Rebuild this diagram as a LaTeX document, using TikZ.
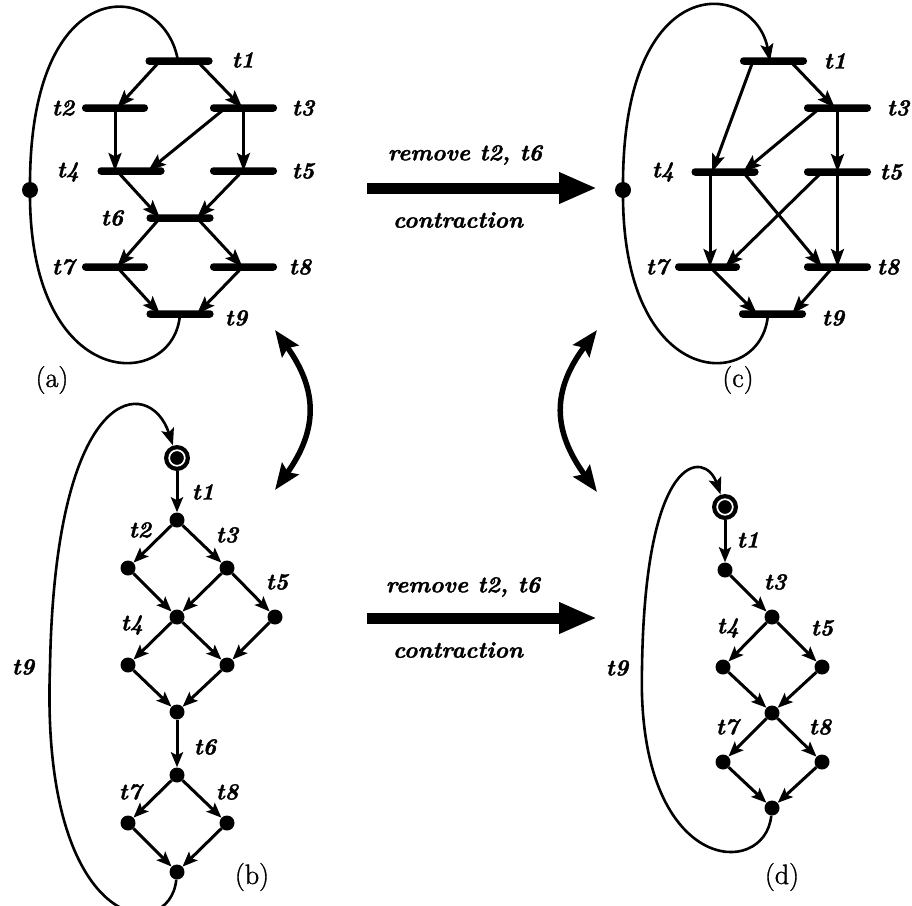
\documentclass[tikz,border=0pt]{standalone}
\usepackage{fontspec}
\newfontfamily\heavyfont[FakeBold=1.6]{Latin Modern Roman}
\newfontfamily\capfont[FakeBold=1.2]{Latin Modern Roman}
\usetikzlibrary{arrows.meta,calc}
\begin{document}
\begin{tikzpicture}[x=1pt,y=-1pt,
  bar/.style={rectangle, fill=black, rounded corners=3.5pt, inner sep=0pt, minimum height=7.5pt, minimum width=#1},
  bar/.default=67pt,
  netarc/.style={line width=3pt, -{Stealth[length=18pt,width=13pt,inset=3.5pt]}},
  loopline/.style={line width=2.6pt},
  looparrow/.style={line width=2.6pt, -{Stealth[length=17pt,width=13pt,inset=3.5pt]}},
  lbl/.style={font=\heavyfont\fontsize{23}{26}\selectfont\bfseries\itshape, inner sep=0pt},
  figcap/.style={font=\capfont\fontsize{28}{30}\selectfont, inner sep=0pt},
  pl/.style={circle, fill=black, minimum size=16pt, inner sep=0pt},
  st/.style={circle, fill=black, minimum size=15pt, inner sep=0pt},
  initpl/.style={circle, fill=black, minimum size=26pt, inner sep=0pt},
  sarc/.style={line width=3pt, -{Stealth[length=15pt,width=12pt,inset=3pt]}},
  big/.style={line width=11pt, -{Triangle[length=38pt,width=29pt]}},
  dbl/.style={line width=5.5pt, {Stealth[length=26pt,width=20pt,inset=4pt]}-{Stealth[length=26pt,width=20pt,inset=4pt]}},
]
\useasboundingbox (0,0) rectangle (912,905);

% ---------- (a) ----------
\node[bar] (a1) at (179,61) {};
\node[bar=66pt] (a2) at (115,108) {};
\node[bar] (a3) at (243.5,108) {};
\node[bar] (a4) at (131,171) {};
\node[bar] (a5) at (243.5,171) {};
\node[bar] (a6) at (180,218) {};
\node[bar=66pt] (a7) at (115,267) {};
\node[bar] (a8) at (243.5,267) {};
\node[bar] (a9) at (180,314) {};
\node[pl] (ap) at (30,190) {};

\draw[netarc] ([xshift=-19pt]a1.center) -- ([xshift=2pt]a2.center);
\draw[netarc] ([xshift=18pt]a1.center) -- ([xshift=-1pt]a3.center);
\draw[netarc] ([xshift=0pt]a2.center) -- ([xshift=-16pt]a4.center);
\draw[netarc] ([xshift=-18pt]a3.center) -- ([xshift=17pt]a4.center);
\draw[netarc] (a3.center) -- (a5.center);
\draw[netarc] ([xshift=-14pt]a4.center) -- ([xshift=-20pt]a6.center);
\draw[netarc] ([xshift=-1pt]a5.center) -- ([xshift=17pt]a6.center);
\draw[netarc] ([xshift=-20pt]a6.center) -- ([xshift=2pt]a7.center);
\draw[netarc] ([xshift=17pt]a6.center) -- ([xshift=-1pt]a8.center);
\draw[netarc] ([xshift=2pt]a7.center) -- ([xshift=-20pt]a9.center);
\draw[netarc] ([xshift=-1pt]a8.center) -- ([xshift=17pt]a9.center);

\draw[loopline] (a9.center) .. controls (175,392) and (28,395) .. (ap.center)
  .. controls (28,-35) and (165,-20) .. ([xshift=-1pt]a1.center);

\node[lbl] (la1) at (243,60) {t1};
\node[lbl] (la2) at (63,108) {t2};
\node[lbl] (la3) at (303,108) {t3};
\node[lbl] (la4) at (68,172) {t4};
\node[lbl] (la5) at (303,171) {t5};
\node[lbl] (la6) at (112,218) {t6};
\node[lbl] (la7) at (63,267) {t7};
\node[lbl] (la8) at (300,267) {t8};
\node[lbl] (la9) at (236,318) {t9};
\node[figcap] (capa) at (52,380) {(a)};

% ---------- (c) ----------
\node[bar] (c1) at (773.5,61) {};
\node[bar] (c3) at (837.5,108) {};
\node[bar] (c4) at (725,172) {};
\node[bar] (c5) at (837.5,172) {};
\node[bar=65pt] (c7) at (707.5,267) {};
\node[bar] (c8) at (837.5,267) {};
\node[bar] (c9) at (772.5,314) {};
\node[pl] (cp) at (623,190) {};

\draw[netarc] ([xshift=-20.5pt]c1.center) -- ([xshift=-13pt]c4.center);
\draw[netarc] ([xshift=16.5pt]c1.center) -- ([xshift=-2.5pt]c3.center);
\draw[netarc] ([xshift=-17.5pt]c3.center) -- ([xshift=18pt]c4.center);
\draw[netarc] (c3.center) -- (c5.center);
\draw[netarc] ([xshift=-15pt]c4.center) -- ([xshift=2.5pt]c7.center);
\draw[netarc] ([xshift=18pt]c4.center) -- ([xshift=-15.5pt]c8.center);
\draw[netarc] ([xshift=-15.5pt]c5.center) -- ([xshift=17.5pt]c7.center);
\draw[netarc] (c5.center) -- (c8.center);
\draw[netarc] ([xshift=2.5pt]c7.center) -- ([xshift=-15.5pt]c9.center);
\draw[netarc] ([xshift=-4.5pt]c8.center) -- ([xshift=19.5pt]c9.center);

\draw[looparrow] ([xshift=-4.5pt]c9.center) .. controls (763,392) and (621,395) .. (cp.center)
  .. controls (621,-35) and (755,-20) .. ([xshift=-3.5pt]c1.center);

\node[lbl] (lc1) at (835,61) {t1};
\node[lbl] (lc3) at (898,108) {t3};
\node[lbl] (lc4) at (663,172) {t4};
\node[lbl] (lc5) at (891,172) {t5};
\node[lbl] (lc7) at (657,267) {t7};
\node[lbl] (lc8) at (888,267) {t8};
\node[lbl] (lc9) at (833,318) {t9};
\node[figcap] (capc) at (738,380) {(c)};

% ---------- (b) ----------
\node[initpl] (b0) at (177,458) {};
\draw[white, line width=1.7pt] (b0.center) circle (7.8pt);
\node[st] (b1) at (177,520) {};
\node[st] (b2) at (128,568) {};
\node[st] (b3) at (227,568) {};
\node[st] (b4) at (177,617) {};
\node[st] (b5) at (275,617) {};
\node[st] (b6) at (128,665) {};
\node[st] (b7) at (227,665) {};
\node[st] (b8) at (177,712) {};
\node[st] (b9) at (177,775) {};
\node[st] (b10) at (128,823) {};
\node[st] (b11) at (227,823) {};
\node[st] (b12) at (177,872) {};
\coordinate (bl) at (50,667);

\draw[sarc] (b0) -- (b1);
\draw[sarc] (b1) -- (b2);
\draw[sarc] (b1) -- (b3);
\draw[sarc] (b2) -- (b4);
\draw[sarc] (b3) -- (b4);
\draw[sarc] (b3) -- (b5);
\draw[sarc] (b4) -- (b6);
\draw[sarc] (b4) -- (b7);
\draw[sarc] (b5) -- (b7);
\draw[sarc] (b6) -- (b8);
\draw[sarc] (b7) -- (b8);
\draw[sarc] (b8) -- (b9);
\draw[sarc] (b9) -- (b10);
\draw[sarc] (b9) -- (b11);
\draw[sarc] (b10) -- (b12);
\draw[sarc] (b11) -- (b12);
\draw[looparrow] (b12) .. controls (170,945) and (40,935) .. (bl)
  .. controls (55,380) and (150,375) .. (b0);

\node[lbl] (lb1) at (203,492) {t1};
\node[lbl] (lb2) at (140,530) {t2};
\node[lbl] (lb3) at (227,535) {t3};
\node[lbl] (lb5) at (277,582) {t5};
\node[lbl] (lb4) at (132,625) {t4};
\node[lbl] (lb6) at (205,747) {t6};
\node[lbl] (lb7) at (130,792) {t7};
\node[lbl] (lb8) at (227,792) {t8};
\node[lbl] (lb9) at (23,667) {t9};
\node[figcap] (capb) at (252,877) {(b)};

% ---------- (d) ----------
\node[initpl] (d0) at (725,507) {};
\draw[white, line width=1.7pt] (d0.center) circle (7.8pt);
\node[st] (d1) at (725,570) {};
\node[st] (d2) at (772,617) {};
\node[st] (d3) at (723,667) {};
\node[st] (d4) at (822,667) {};
\node[st] (d5) at (772,713) {};
\node[st] (d6) at (723,762) {};
\node[st] (d7) at (822,762) {};
\node[st] (d8) at (772,808) {};
\coordinate (dl) at (642,668);

\draw[sarc] (d0) -- (d1);
\draw[sarc] (d1) -- (d2);
\draw[sarc] (d2) -- (d3);
\draw[sarc] (d2) -- (d4);
\draw[sarc] (d3) -- (d5);
\draw[sarc] (d4) -- (d5);
\draw[sarc] (d5) -- (d6);
\draw[sarc] (d5) -- (d7);
\draw[sarc] (d6) -- (d8);
\draw[sarc] (d7) -- (d8);
\draw[looparrow] (d8) .. controls (765,880) and (636,875) .. (dl)
  .. controls (645,450) and (705,450) .. (d0);

\node[lbl] (ld1) at (748,540) {t1};
\node[lbl] (ld3) at (775,582) {t3};
\node[lbl] (ld4) at (728,628) {t4};
\node[lbl] (ld5) at (822,628) {t5};
\node[lbl] (ld7) at (727,727) {t7};
\node[lbl] (ld8) at (820,727) {t8};
\node[lbl] (ld9) at (617,668) {t9};
\node[figcap] (capd) at (782,877) {(d)};

% ---------- middle arrows ----------
\coordinate (m1s) at (367,188);
\coordinate (m1e) at (597,188);
\draw[big] (m1s) -- (m1e);
\node[lbl] (rm1) at (465,155) {remove t2, t6};
\node[lbl] (ct1) at (458,220) {contraction};

\coordinate (m2s) at (367,618);
\coordinate (m2e) at (597,618);
\draw[big] (m2s) -- (m2e);
\node[lbl] (rm2) at (463,587) {remove t2, t6};
\node[lbl] (ct2) at (458,650) {contraction};

\coordinate (da1) at (275,330);
\coordinate (da2) at (275,490);
\draw[dbl] (da1) .. controls (318,390) and (318,430) .. (da2);
\coordinate (db1) at (597,330);
\coordinate (db2) at (597,492);
\draw[dbl] (db1) .. controls (552,390) and (552,430) .. (db2);
\end{tikzpicture}
\end{document}
